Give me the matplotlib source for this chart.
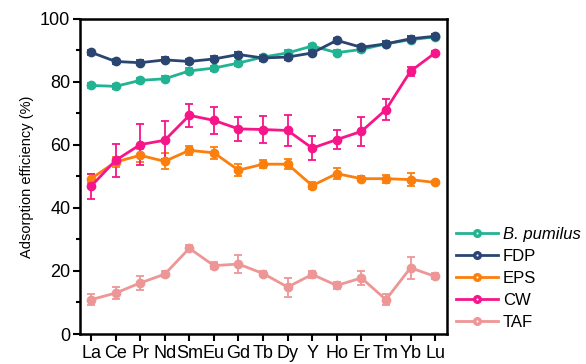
import numpy as np
import matplotlib.pyplot as plt
from matplotlib.lines import Line2D

plt.rcParams['font.family'] = ['Liberation Sans', 'DejaVu Sans']

elements = ['La', 'Ce', 'Pr', 'Nd', 'Sm', 'Eu', 'Gd', 'Tb', 'Dy', 'Y', 'Ho', 'Er', 'Tm', 'Yb', 'Lu']

# values (%) and errors
pumilus = [78.9, 78.6, 80.5, 81.0, 83.5, 84.4, 86.0, 87.9, 89.2, 91.4, 89.3, 90.3, 92.1, 93.4, 94.3]
pumilus_err = [0.8, 0.8, 0.8, 0.8, 0.8, 0.8, 0.8, 0.8, 0.8, 0.8, 0.8, 0.8, 0.8, 0.8, 0.8]
fdp = [89.4, 86.5, 86.1, 87.0, 86.5, 87.3, 88.7, 87.6, 87.9, 89.2, 93.2, 91.0, 92.1, 93.7, 94.5]
fdp_err = [0.8, 0.8, 0.8, 0.8, 0.8, 0.8, 0.8, 0.8, 0.8, 0.8, 0.8, 0.8, 0.8, 0.8, 0.8]
eps = [49.3, 54.6, 56.7, 54.8, 58.3, 57.5, 52.0, 53.9, 53.9, 47.1, 50.9, 49.3, 49.3, 49.0, 48.1]
eps_err = [1.5, 1.5, 2.0, 2.5, 1.5, 1.8, 1.8, 1.3, 1.5, 1.0, 1.8, 0.8, 1.3, 2.0, 0.6]
cw = [46.9, 55.1, 60.1, 61.5, 69.4, 67.8, 65.1, 64.9, 64.6, 59.0, 61.7, 64.3, 71.2, 83.4, 89.2]
cw_err = [4.0, 5.3, 6.5, 6.0, 3.7, 4.4, 3.8, 4.3, 4.8, 3.9, 3.1, 4.6, 3.3, 1.5, 0.6]
taf = [10.9, 13.0, 16.2, 19.0, 27.2, 21.7, 22.2, 19.2, 14.9, 18.9, 15.4, 17.8, 10.9, 21.0, 18.3]
taf_err = [1.8, 2.0, 2.3, 1.0, 1.0, 1.0, 2.8, 0.8, 3.0, 1.0, 1.2, 2.2, 1.8, 3.5, 1.0]

labels = ['B. pumilus', 'FDP', 'EPS', 'CW', 'TAF']
colors = ['#22b392', '#2b4573', '#fb7f0c', '#f7158a', '#ee9696']
data = [(pumilus, pumilus_err), (fdp, fdp_err), (eps, eps_err), (cw, cw_err), (taf, taf_err)]

x = np.arange(len(elements))

fig = plt.figure(figsize=(5.86, 3.64), dpi=100)
ax = fig.add_axes([0.1365, 0.0824, 0.6265, 0.8656])

handles = []
for (vals, err), col in zip(data, colors):
    ax.errorbar(x, vals, yerr=err, color=col, lw=2, marker='o', ms=6,
                mfc=col, mec=col, capsize=3, capthick=1.3, elinewidth=1.3)
    ax.plot(x, vals, ls='none', marker='o', ms=2, mfc='white', mec='none')
    handles.append((Line2D([], [], color=col, lw=2, marker='o', ms=5.5),
                    Line2D([], [], ls='none', marker='o', ms=1.5, mfc='white', mec='none')))

ax.set_xlim(-0.45, 14.49)
ax.set_ylim(0, 100)
ax.set_xticks(x)
ax.set_xticklabels(elements, fontsize=13)
ax.set_yticks([0, 20, 40, 60, 80, 100])
ax.set_yticks(np.arange(10, 100, 20), minor=True)
ax.tick_params(axis='both', labelsize=13, width=1.5, length=5, direction='out', pad=2)
ax.tick_params(axis='y', which='minor', width=1.5, length=3)
ax.tick_params(axis='x', pad=3)
for s in ax.spines.values():
    s.set_linewidth(1.8)
ax.set_ylabel('Adsorption efficiency (%)', fontsize=10.5)

leg = fig.legend(handles, labels, loc='lower left', bbox_to_anchor=(456 / 586, 34 / 364),
                 frameon=False, fontsize=12, handlelength=2.5, handletextpad=0.3,
                 labelspacing=0.42, borderaxespad=0, borderpad=0)
leg.get_texts()[0].set_style('italic')

fig.savefig('out.png', dpi=100)
